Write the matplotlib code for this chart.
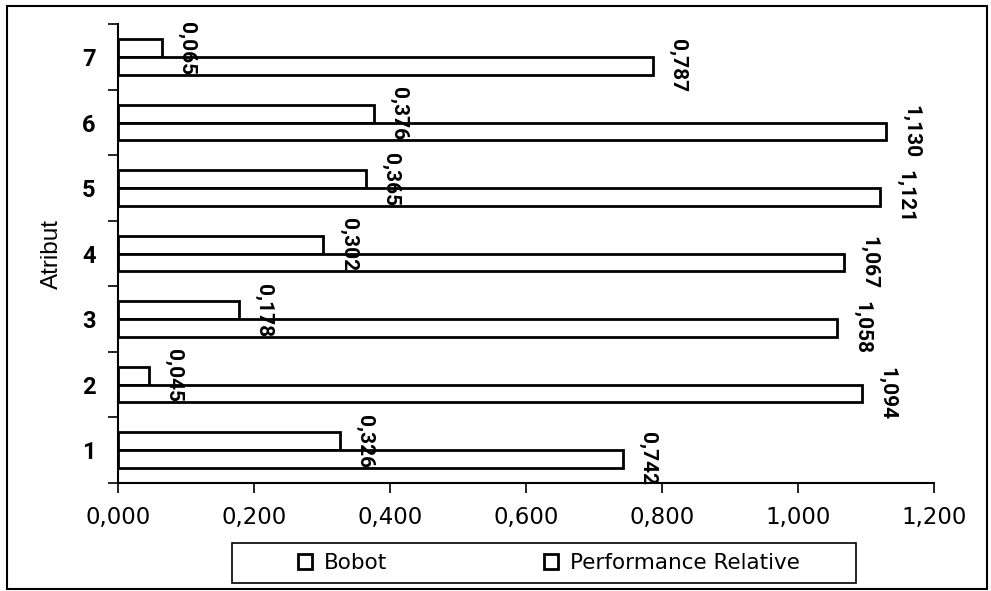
import matplotlib.pyplot as plt
from matplotlib.patches import Rectangle

# data
atribut = [1, 2, 3, 4, 5, 6, 7]
bobot = [0.326, 0.045, 0.178, 0.302, 0.365, 0.376, 0.065]
performance = [0.742, 1.094, 1.058, 1.067, 1.121, 1.130, 0.787]
xticks = [0.0, 0.2, 0.4, 0.6, 0.8, 1.0, 1.2]


def fmt(v):
    return f"{v:.3f}".replace(".", ",")


def main():
    plt.rcParams['font.family'] = ['Liberation Sans', 'DejaVu Sans']
    bold_font = ['Roboto', 'Liberation Sans', 'DejaVu Sans']

    fig = plt.figure(figsize=(9.91, 5.91), dpi=100)
    ax = fig.add_axes([0.119, 0.183, 0.8235, 0.776])

    h = 0.27
    off = 0.135
    y_b = [a + off for a in atribut]
    y_p = [a - off for a in atribut]
    bars_b = ax.barh(y_b, bobot, height=h, color='white', edgecolor='black',
                     linewidth=2, label='Bobot')
    bars_p = ax.barh(y_p, performance, height=h, color='white', edgecolor='black',
                     linewidth=2, label='Performance Relative')

    # data labels, rotated like in excel
    for bars, vals in ((bars_b, bobot), (bars_p, performance)):
        for b, v in zip(bars, vals):
            ax.annotate(fmt(v), (v, b.get_y() + b.get_height() / 2),
                        xytext=(11, 0), textcoords='offset points',
                        rotation=270, ha='left', va='center',
                        family=bold_font, fontsize=15,
                        fontweight='bold', zorder=5)

    ax.set_xlim(0, 1.2)
    ax.set_ylim(0.5, 7.5)
    ax.set_xticks(xticks)
    ax.set_xticklabels([fmt(x) for x in xticks], fontsize=16.5, family='DejaVu Sans')

    # ticks on the category borders, labels in the middle
    ax.set_yticks([a - 0.5 for a in atribut] + [7.5])
    ax.set_yticklabels([])
    ax.set_yticks(atribut, minor=True)
    ax.set_yticklabels([str(a) for a in atribut], minor=True, family=bold_font,
                       fontsize=17, fontweight='bold')
    ax.tick_params(axis='y', which='minor', length=0, pad=16)
    ax.tick_params(axis='both', which='major', length=7, width=1.2, direction='out')
    ax.tick_params(axis='x', pad=10)

    ax.set_ylabel('Atribut', fontsize=17.5, family='Liberation Sans', labelpad=14)

    for s in ['top', 'right']:
        ax.spines[s].set_visible(False)
    ax.spines['left'].set_linewidth(1.5)
    ax.spines['bottom'].set_linewidth(1.5)

    # legend with a fixed excel-like box drawn separately
    fig.legend(loc='center', bbox_to_anchor=(549 / 991, 1 - 563 / 591), ncol=2,
               prop={'family': 'DejaVu Sans', 'size': 15.5}, frameon=False,
               handlelength=0.65, handleheight=0.65, handletextpad=0.55,
               columnspacing=7.3)
    fig.patches.append(Rectangle((232 / 991, 1 - 583 / 591), 624 / 991, 40 / 591,
                                 transform=fig.transFigure, fill=False,
                                 edgecolor='black', linewidth=1.2))

    # border around the whole chart
    fig.patches.append(Rectangle((0.007, 0.003), 0.989, 0.987, transform=fig.transFigure,
                                 fill=False, edgecolor='black', linewidth=1.5))

    fig.savefig('out.png', dpi=100)


if __name__ == "__main__":
    main()
